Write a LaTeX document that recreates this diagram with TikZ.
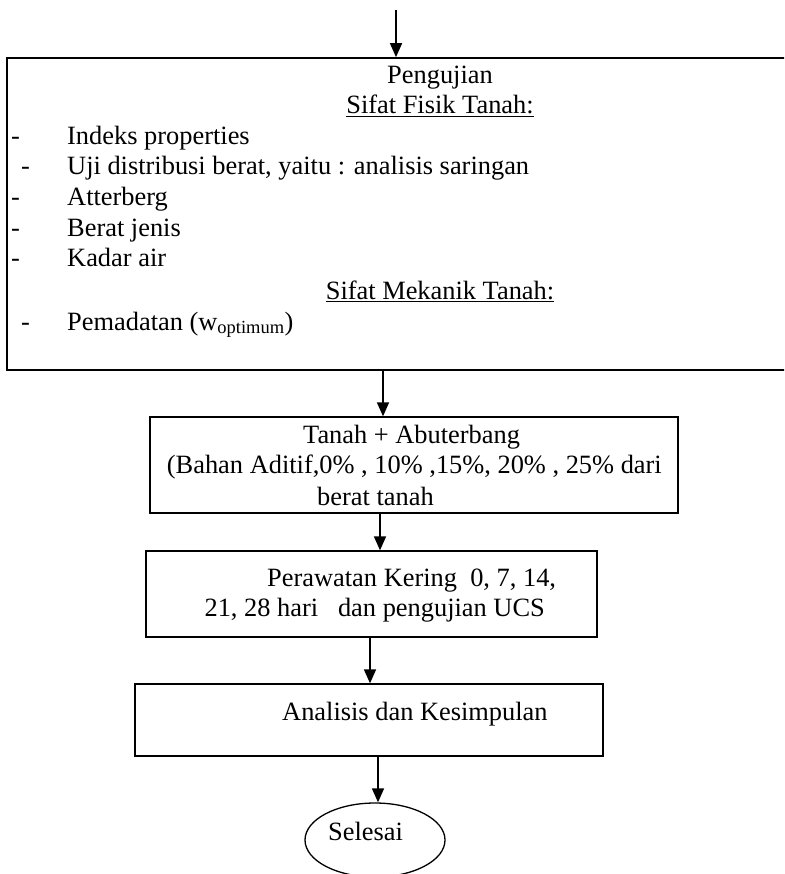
\documentclass[tikz,border=0pt]{standalone}
\usepackage{fontspec}
\setmainfont{Liberation Serif}
\usetikzlibrary{arrows.meta,shapes.geometric}
\begin{document}
\begin{tikzpicture}[x=1pt,y=-1pt,
  txt/.style={inner sep=0pt,font=\fontsize{26.4}{30}\selectfont},
  boxline/.style={draw,line width=1.3pt,inner sep=0pt},
  arr/.style={line width=1.6pt,-{Triangle[length=14pt,width=12pt]}},
]
\useasboundingbox (0,0) rectangle (784,874);
\clip (0,0) rectangle (784,874);
% boxes
\node[boxline,line width=1.7pt,minimum width=866pt,minimum height=312pt] (big) at (440,214) {};
\node[boxline,minimum width=528pt,minimum height=96pt] (b2) at (414,465) {};
\node[boxline,minimum width=451pt,minimum height=86pt] (b3) at (371.5,594) {};
\node[boxline,minimum width=468pt,minimum height=72pt] (b4) at (369,720) {};
\node[boxline,ellipse,minimum width=140pt,minimum height=74pt] (end) at (375,840) {};
% texts in big box
\node[txt,anchor=base] (t1) at (440,84) {Pengujian};
\node[txt,anchor=base] (t2) at (440,114) {\underline{Sifat Fisik Tanah:}};
\node[txt,anchor=base west] (d1) at (11,145) {-};
\node[txt,anchor=base west] (i1) at (67,145) {Indeks properties};
\node[txt,anchor=base west] (d2) at (21,175) {-};
\node[txt,anchor=base west] (i2) at (67,175) {Uji distribusi berat, yaitu : analisis saringan};
\node[txt,anchor=base west] (d3) at (11,206) {-};
\node[txt,anchor=base west] (i3) at (67,206) {Atterberg};
\node[txt,anchor=base west] (d4) at (11,237) {-};
\node[txt,anchor=base west] (i4) at (67,237) {Berat jenis};
\node[txt,anchor=base west] (d5) at (11,267) {-};
\node[txt,anchor=base west] (i5) at (67,267) {Kadar air};
\node[txt,anchor=base] (t3) at (440,299) {\underline{Sifat Mekanik Tanah:}};
\node[txt,anchor=base west] (d6) at (21,330) {-};
\node[txt,anchor=base west] (i6) at (67,330) {Pemadatan (w\textsubscript{optimum})};
% box 2
\node[txt,anchor=base west] (b2a) at (303,443) {Tanah + Abuterbang};
\node[txt,anchor=base east] (b2b) at (662,473) {(Bahan Aditif,0\% , 10\% ,15\%, 20\% , 25\% dari};
\node[txt,anchor=base west] (b2c) at (317,505) {berat tanah};
% box 3
\node[txt,anchor=base west] (b3a) at (267,586) {Perawatan Kering\ \ 0, 7, 14,};
\node[txt,anchor=base east] (b3b) at (545,616) {21, 28 hari\ \ \ dan pengujian UCS};
% box 4
\node[txt,anchor=base west] (b4a) at (282,720) {Analisis dan Kesimpulan};
% ellipse
\node[txt,anchor=base west] (sel) at (328,840) {Selesai};
% arrows
\coordinate (s) at (396,10);
\coordinate (x2) at (383,0);
\coordinate (x3) at (380,0);
\coordinate (x4) at (370,0);
\coordinate (x5) at (378,0);
\draw[arr] (s) -- (s |- big.north);
\draw[arr] (big.south -| x2) -- (b2.north -| x2);
\draw[arr] (b2.south -| x3) -- (b3.north -| x3);
\draw[arr] (b3.south -| x4) -- (b4.north -| x4);
\draw[arr] (b4.south -| x5) -- (end.north -| x5);
\end{tikzpicture}
\end{document}
